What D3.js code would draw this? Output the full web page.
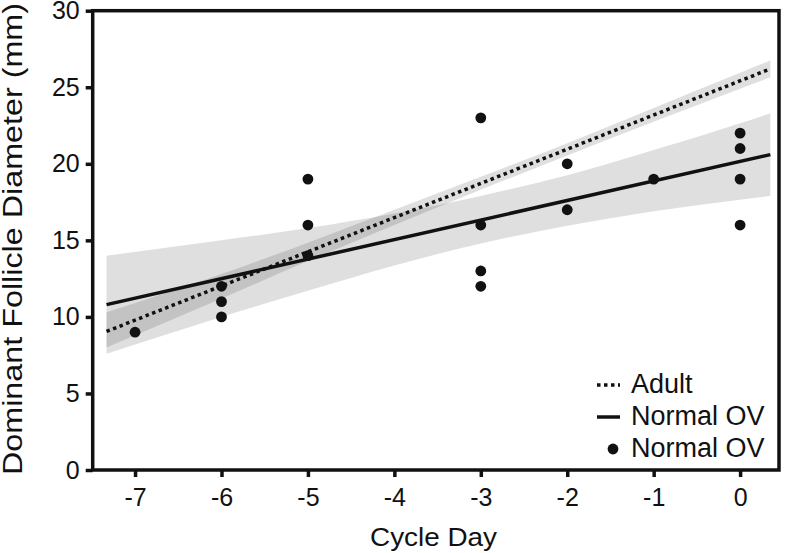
<!DOCTYPE html>
<html>
<head>
<meta charset="utf-8">
<script src="https://cdn.jsdelivr.net/npm/d3@7"></script>
<style>
body { margin: 0; background: #fff; }
svg text { font-family: "Liberation Sans", Arial, sans-serif; fill: #111; }
</style>
</head>
<body>
<div class="chart"></div>
<script>
var width = 785;
var height = 553;

// scatter points (Normal OV)
var pointDay = [-7, -6, -6, -6, -5, -5, -5, -3, -3, -3, -3, -2, -2, -1, 0, 0, 0, 0];
var pointDiam = [9, 12, 11, 10, 19, 16, 14, 23, 16, 13, 12, 20, 17, 19, 22, 21, 19, 16];

// fitted lines, read at the two ends
var lineDays = [-7.33, 0.35];
var adultFit = [9.05, 26.2];
var normalFit = [10.8, 20.6];

var bandDays = [-7.33, -6, -5, -4, -3, -2, -1, 0, 0.35];
var adultLow = [8.0, 11.2, 13.65, 16.0, 18.3, 20.55, 22.75, 24.9, 25.65];
var adultHigh = [10.3, 12.8, 14.85, 17.0, 19.15, 21.35, 23.65, 25.95, 26.75];
var normalLow = [7.6, 10.0, 11.7, 13.35, 14.8, 15.95, 16.9, 17.65, 17.9];
var normalHigh = [14.0, 15.0, 15.8, 16.75, 17.9, 19.25, 20.9, 22.65, 23.3];

var xTicks = [-7, -6, -5, -4, -3, -2, -1, 0];
var yTicks = [0, 5, 10, 15, 20, 25, 30];
var legendLabels = ["Adult", "Normal OV", "Normal OV"];

var plotLeft = 92.7, plotRight = 779, plotTop = 10.7, plotBottom = 470;

var x = d3.scaleLinear().domain([-7.49, 0.45]).range([plotLeft, plotRight]);
var y = d3.scaleLinear().domain([0, 30]).range([plotBottom, plotTop]);

function build_svg(c) {
    return c.append("svg").attr("width", width).attr("height", height);
}

function build_bands(s) {
    var idx = d3.range(bandDays.length);
    var area = function(lo, hi) {
        return d3.area()
            .curve(d3.curveMonotoneX)
            .x(function(i) { return x(bandDays[i]); })
            .y0(function(i) { return y(lo[i]); })
            .y1(function(i) { return y(hi[i]); });
    };
    s.append("path").datum(idx)
        .attr("d", area(normalLow, normalHigh))
        .attr("fill", "#000").attr("fill-opacity", 0.125);
    s.append("path").datum(idx)
        .attr("d", area(adultLow, adultHigh))
        .attr("fill", "#000").attr("fill-opacity", 0.125);
}

function build_lines(s) {
    var line = function(vals) {
        return d3.line()
            .x(function(d, i) { return x(lineDays[i]); })
            .y(function(d) { return y(d); })(vals);
    };
    s.append("path").attr("d", line(normalFit))
        .attr("fill", "none").attr("stroke", "#111").attr("stroke-width", 3.5);
    s.append("path").attr("d", line(adultFit))
        .attr("fill", "none").attr("stroke", "#111").attr("stroke-width", 3.5)
        .attr("stroke-dasharray", "3.5,3.5");
}

function build_points(s) {
    s.selectAll(".pt")
        .data(pointDay)
        .enter().append("circle")
        .attr("class", "pt")
        .attr("cx", function(d) { return x(d); })
        .attr("cy", function(d, i) { return y(pointDiam[i]); })
        .attr("r", 5.4)
        .attr("fill", "#111");
}

function build_axes(s) {
    var fmt = function(d) { return String(d); };   // plain hyphen minus
    var yAxis = d3.axisLeft(y).tickValues(yTicks).tickFormat(fmt).tickSize(7).tickPadding(6).tickSizeOuter(0);
    var xAxis = d3.axisBottom(x).tickValues(xTicks).tickFormat(fmt).tickSize(7).tickPadding(11).tickSizeOuter(0);
    var gy = s.append("g").attr("transform", "translate(" + plotLeft + ",0)").call(yAxis);
    var gx = s.append("g").attr("transform", "translate(0," + plotBottom + ")").call(xAxis);
    [gy, gx].forEach(function(g) {
        g.attr("font-family", null).attr("font-size", null);
        g.select(".domain").remove();
        g.selectAll(".tick line").attr("stroke", "#111").attr("stroke-width", 3.5);
        g.selectAll(".tick text").attr("font-size", 25).attr("fill", "#111");
    });
    // frame
    s.append("rect")
        .attr("x", plotLeft).attr("y", plotTop)
        .attr("width", plotRight - plotLeft).attr("height", plotBottom - plotTop)
        .attr("fill", "none").attr("stroke", "#111").attr("stroke-width", 3.5);

    s.append("text")
        .attr("x", 433.5).attr("y", 546)
        .attr("text-anchor", "middle")
        .attr("font-size", 25)
        .attr("textLength", 127).attr("lengthAdjust", "spacingAndGlyphs")
        .text("Cycle Day");
    s.append("text")
        .attr("transform", "translate(22,239) rotate(-90)")
        .attr("text-anchor", "middle")
        .attr("font-size", 27)
        .attr("textLength", 472).attr("lengthAdjust", "spacingAndGlyphs")
        .text("Dominant Follicle Diameter (mm)");
}

function build_legend(s) {
    var g = s.append("g");
    var rows = g.selectAll(".lg").data(legendLabels).enter().append("g")
        .attr("class", "lg")
        .attr("transform", function(d, i) { return "translate(0," + (385 + i * 32) + ")"; });
    rows.append("text")
        .attr("x", 631).attr("y", 8)
        .attr("font-size", 27)
        .text(function(d) { return d; });
    rows.filter(function(d, i) { return i < 2; }).append("line")
        .attr("x1", 597).attr("x2", 620)
        .attr("stroke", "#111").attr("stroke-width", 3.5)
        .attr("stroke-dasharray", function(d, i) { return i === 0 ? "3.5,3.5" : null; });
    rows.filter(function(d, i) { return i === 2; }).append("circle")
        .attr("cx", 613).attr("cy", 0).attr("r", 5.4).attr("fill", "#111");
}

function main() {
    var container = d3.select(".chart");
    var svg = build_svg(container);
    build_bands(svg);
    build_lines(svg);
    build_points(svg);
    build_axes(svg);
    build_legend(svg);
}

main();
</script>
</body>
</html>
